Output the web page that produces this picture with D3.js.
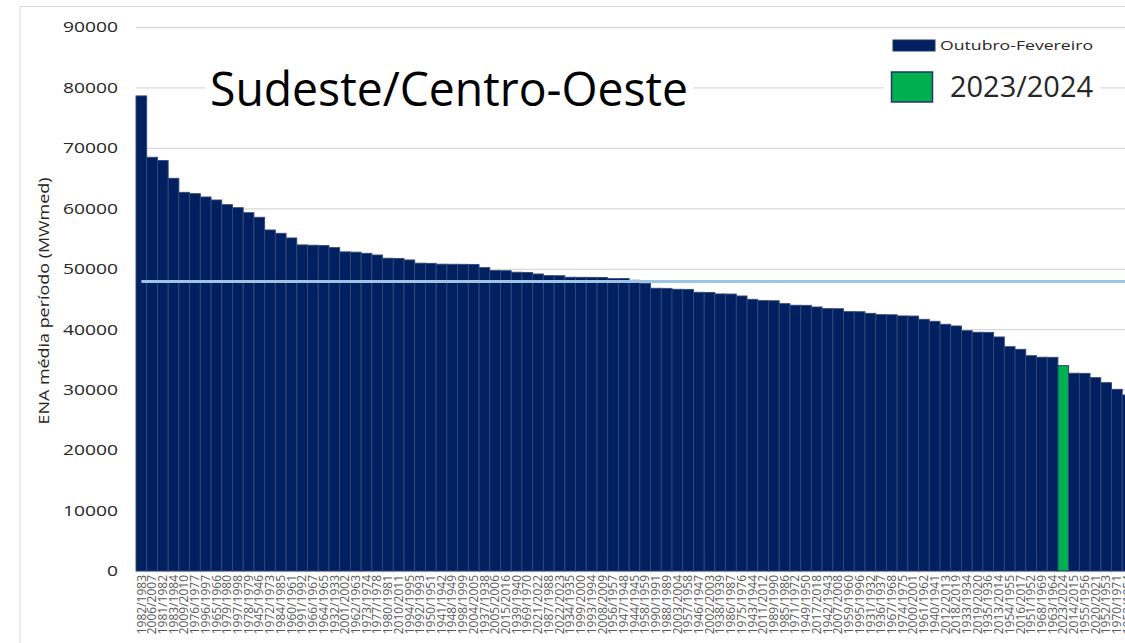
<!DOCTYPE html>
<html>
<head>
<meta charset="utf-8">
<script src="https://cdn.jsdelivr.net/npm/d3@7"></script>
<style>
  body { margin: 0; background: #fff; overflow: hidden; }
  svg { display: block; font-family: "Open Sans", sans-serif; }
</style>
</head>
<body>
<div id="chart"></div>
<script>
// periods sorted by ENA (Oct-Feb)
const periods = [
    "1982/1983", "2006/2007", "1981/1982", "1983/1984", "2009/2010", "1976/1977", "1996/1997", "1965/1966",
    "1979/1980", "1997/1998", "1978/1979", "1945/1946", "1972/1973", "1984/1985", "1960/1961", "1991/1992",
    "1966/1967", "1964/1965", "1932/1933", "2001/2002", "1962/1963", "1973/1974", "1977/1978", "1980/1981",
    "2010/2011", "1994/1995", "1992/1993", "1950/1951", "1941/1942", "1948/1949", "1998/1999", "2004/2005",
    "1937/1938", "2005/2006", "2015/2016", "1939/1940", "1969/1970", "2021/2022", "1987/1988", "2022/2023",
    "1934/1935", "1999/2000", "1993/1994", "2008/2009", "1956/1957", "1947/1948", "1944/1945", "1958/1959",
    "1990/1991", "1988/1989", "2003/2004", "1957/1958", "1946/1947", "2002/2003", "1938/1939", "1986/1987",
    "1975/1976", "1943/1944", "2011/2012", "1989/1990", "1985/1986", "1971/1972", "1949/1950", "2017/2018",
    "1942/1943", "2007/2008", "1959/1960", "1995/1996", "1931/1932", "1936/1937", "1967/1968", "1974/1975",
    "2000/2001", "1961/1962", "1940/1941", "2012/2013", "2018/2019", "1933/1934", "2019/2020", "1935/1936",
    "2013/2014", "1954/1955", "2016/2017", "1951/1952", "1968/1969", "1963/1964", "2023/2024", "2014/2015",
    "1955/1956", "2020/2021", "1952/1953", "1970/1971", "1953/1954"
];

const enaValues = [
    78600, 68450, 67900, 64970, 62650, 62430, 61880, 61380,
    60610, 60110, 59280, 58520, 56420, 55870, 55100, 53950,
    53900, 53850, 53500, 52800, 52750, 52560, 52280, 51750,
    51700, 51460, 50930, 50900, 50760, 50750, 50740, 50720,
    50190, 49700, 49680, 49430, 49400, 49140, 48870, 48850,
    48600, 48590, 48580, 48570, 48370, 48400, 48100, 47600,
    46780, 46760, 46610, 46590, 46110, 46090, 45840, 45820,
    45500, 44950, 44730, 44710, 44230, 43970, 43950, 43680,
    43410, 43390, 42910, 42890, 42630, 42410, 42390, 42200,
    42180, 41640, 41310, 40820, 40540, 39760, 39500, 39480,
    38720, 37110, 36680, 35620, 35370, 35350, 33970, 32720,
    32700, 31990, 31160, 30060, 29120
];

const yTicks = [0, 10000, 20000, 30000, 40000, 50000, 60000, 70000, 80000, 90000];
const averageEna = 47900;
const highlightPeriod = "2023/2024";
const chartTitle = "Sudeste/Centro-Oeste";
const yAxisTitle = "ENA média período (MWmed)";
const legendLabels = ["Outubro-Fevereiro", "2023/2024"];

const width = 1125, height = 643;
const navy = "#002060", green = "#00b050", gridColor = "#d9d9d9", textColor = "#595959";

const data = periods.map((p, i) => ({ period: p, value: enaValues[i] }));

const svg = d3.select("#chart")
    .append("svg")
    .attr("width", width)
    .attr("height", height);

// outer chart border
svg.append("path")
    .attr("d", "M20,645 V6.5 H1130")
    .attr("fill", "none")
    .attr("stroke", gridColor)
    .attr("stroke-width", 1);

const left = 136, step = 10.72;
const xScale = d3.scaleBand()
    .domain(periods)
    .range([left, left + periods.length * step])
    .padding(0);

const yScale = d3.scaleLinear()
    .domain([0, 90000])
    .range([571, 27]);

// gridlines + tick labels
const yAxis = d3.axisLeft(yScale)
    .tickValues(yTicks)
    .tickSize(-(width - left))
    .tickPadding(18)
    .tickFormat(d3.format("d"));

const gy = svg.append("g")
    .attr("transform", `translate(${left},0)`)
    .call(yAxis);
gy.select(".domain").remove();
gy.selectAll(".tick line").attr("stroke", gridColor).attr("stroke-width", 1.3);
gy.selectAll(".tick text")
    .attr("fill", "#262626")
    .attr("font-size", 15)
    .attr("font-family", "Open Sans, sans-serif")
    .each(function () {
        d3.select(this)
            .attr("textLength", this.textContent.length * 11)
            .attr("lengthAdjust", "spacingAndGlyphs");
    });

// title with its white text box
const titleG = svg.append("g");
titleG.append("rect")
    .attr("x", 205).attr("y", 62).attr("width", 488).attr("height", 52)
    .attr("fill", "#fff");
titleG.append("text")
    .attr("x", 210)
    .attr("y", 106)
    .attr("font-size", 48)
    .attr("fill", "#000")
    .attr("textLength", 478)
    .attr("lengthAdjust", "spacingAndGlyphs")
    .text(chartTitle);

// bars
svg.append("g")
    .selectAll("rect")
    .data(data)
    .join("rect")
    .attr("x", d => xScale(d.period))
    .attr("y", d => yScale(d.value))
    .attr("width", xScale.bandwidth())
    .attr("height", d => yScale(0) - yScale(d.value))
    .attr("fill", d => d.period === highlightPeriod ? green : navy)
    .attr("stroke", d => d.period === highlightPeriod ? "#1f3864" : "#33487a")
    .attr("stroke-width", 0.9);

// average line
svg.append("line")
    .attr("x1", xScale(periods[0]) + xScale.bandwidth() / 2)
    .attr("x2", width)
    .attr("y1", yScale(averageEna))
    .attr("y2", yScale(averageEna))
    .attr("stroke", "#9dc3e6")
    .attr("stroke-width", 3);

// x labels, rotated (bottom of them is cut by the frame, as in the source)
svg.append("g")
    .selectAll("text")
    .data(periods)
    .join("text")
    .attr("transform", d => `translate(${xScale(d) + xScale.bandwidth() / 2},575) rotate(-90)`)
    .attr("text-anchor", "end")
    .attr("dy", "0.35em")
    .attr("font-size", 12)
    .attr("fill", textColor)
    .text(d => d);

// y axis title
svg.append("text")
    .attr("transform", `translate(44,301) rotate(-90)`)
    .attr("text-anchor", "middle")
    .attr("dy", "0.35em")
    .attr("font-size", 15)
    .attr("fill", "#262626")
    .attr("textLength", 247)
    .attr("lengthAdjust", "spacingAndGlyphs")
    .text(yAxisTitle);

// legend
const lg = svg.append("g");
lg.append("rect")
    .attr("x", 884).attr("y", 34).attr("width", 216).attr("height", 74)
    .attr("fill", "#fff");
lg.append("rect")
    .attr("x", 893).attr("y", 40).attr("width", 42).attr("height", 11)
    .attr("fill", navy).attr("stroke", "#1f3864");
lg.append("text")
    .attr("x", 940).attr("y", 50)
    .attr("font-size", 13)
    .attr("fill", "#262626")
    .attr("textLength", 153)
    .attr("lengthAdjust", "spacingAndGlyphs")
    .text(legendLabels[0]);
lg.append("rect")
    .attr("x", 891.5).attr("y", 72).attr("width", 41).attr("height", 30)
    .attr("fill", green).attr("stroke", "#1f3864").attr("stroke-width", 1.5);
lg.append("text")
    .attr("x", 950).attr("y", 97)
    .attr("font-size", 30)
    .attr("fill", "#262626")
    .attr("textLength", 143)
    .attr("lengthAdjust", "spacingAndGlyphs")
    .text(legendLabels[1]);
</script>
</body>
</html>
